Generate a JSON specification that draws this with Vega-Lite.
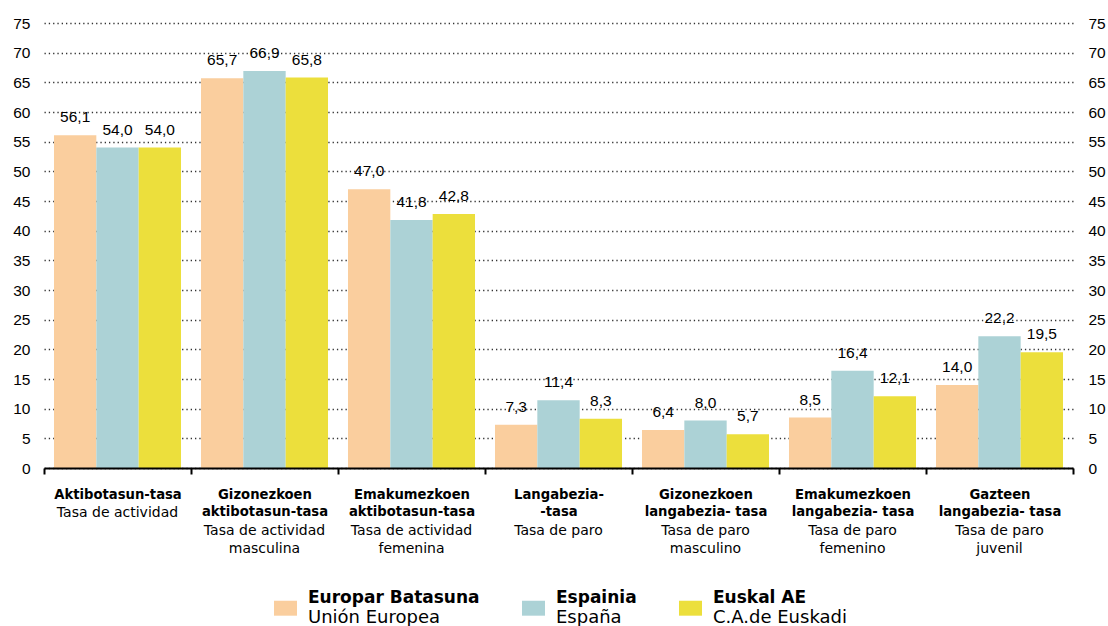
{
  "$schema": "https://vega.github.io/schema/vega-lite/v6.json",
  "width": 1029,
  "height": 445,
  "autosize": {"type": "none"},
  "padding": {"left": 44, "top": 23, "right": 35, "bottom": 158},
  "background": "white",
  "config": {
    "locale": {"number": {"decimal": ",", "thousands": ".", "grouping": [3], "currency": ["", " €"]}},
    "view": {"stroke": null},
    "font": "Liberation Sans"
  },
  "data": {
    "values": [
      {"kat": "Aktibotasun-tasa#Tasa de actividad", "serie": "Europar Batasuna", "serie_es": "Unión Europea", "balioa": 56.1},
      {"kat": "Aktibotasun-tasa#Tasa de actividad", "serie": "Espainia", "serie_es": "España", "balioa": 54.0},
      {"kat": "Aktibotasun-tasa#Tasa de actividad", "serie": "Euskal AE", "serie_es": "C.A.de Euskadi", "balioa": 54.0},
      {"kat": "Gizonezkoen|aktibotasun-tasa#Tasa de actividad|masculina", "serie": "Europar Batasuna", "serie_es": "Unión Europea", "balioa": 65.7},
      {"kat": "Gizonezkoen|aktibotasun-tasa#Tasa de actividad|masculina", "serie": "Espainia", "serie_es": "España", "balioa": 66.9},
      {"kat": "Gizonezkoen|aktibotasun-tasa#Tasa de actividad|masculina", "serie": "Euskal AE", "serie_es": "C.A.de Euskadi", "balioa": 65.8},
      {"kat": "Emakumezkoen|aktibotasun-tasa#Tasa de actividad|femenina", "serie": "Europar Batasuna", "serie_es": "Unión Europea", "balioa": 47.0},
      {"kat": "Emakumezkoen|aktibotasun-tasa#Tasa de actividad|femenina", "serie": "Espainia", "serie_es": "España", "balioa": 41.8},
      {"kat": "Emakumezkoen|aktibotasun-tasa#Tasa de actividad|femenina", "serie": "Euskal AE", "serie_es": "C.A.de Euskadi", "balioa": 42.8},
      {"kat": "Langabezia-|-tasa#Tasa de paro", "serie": "Europar Batasuna", "serie_es": "Unión Europea", "balioa": 7.3},
      {"kat": "Langabezia-|-tasa#Tasa de paro", "serie": "Espainia", "serie_es": "España", "balioa": 11.4},
      {"kat": "Langabezia-|-tasa#Tasa de paro", "serie": "Euskal AE", "serie_es": "C.A.de Euskadi", "balioa": 8.3},
      {"kat": "Gizonezkoen|langabezia- tasa#Tasa de paro|masculino", "serie": "Europar Batasuna", "serie_es": "Unión Europea", "balioa": 6.4},
      {"kat": "Gizonezkoen|langabezia- tasa#Tasa de paro|masculino", "serie": "Espainia", "serie_es": "España", "balioa": 8.0},
      {"kat": "Gizonezkoen|langabezia- tasa#Tasa de paro|masculino", "serie": "Euskal AE", "serie_es": "C.A.de Euskadi", "balioa": 5.7},
      {"kat": "Emakumezkoen|langabezia- tasa#Tasa de paro|femenino", "serie": "Europar Batasuna", "serie_es": "Unión Europea", "balioa": 8.5},
      {"kat": "Emakumezkoen|langabezia- tasa#Tasa de paro|femenino", "serie": "Espainia", "serie_es": "España", "balioa": 16.4},
      {"kat": "Emakumezkoen|langabezia- tasa#Tasa de paro|femenino", "serie": "Euskal AE", "serie_es": "C.A.de Euskadi", "balioa": 12.1},
      {"kat": "Gazteen|langabezia- tasa#Tasa de paro|juvenil", "serie": "Europar Batasuna", "serie_es": "Unión Europea", "balioa": 14.0},
      {"kat": "Gazteen|langabezia- tasa#Tasa de paro|juvenil", "serie": "Espainia", "serie_es": "España", "balioa": 22.2},
      {"kat": "Gazteen|langabezia- tasa#Tasa de paro|juvenil", "serie": "Euskal AE", "serie_es": "C.A.de Euskadi", "balioa": 19.5}
    ]
  },
  "layer": [
    {
      "mark": {"type": "bar", "strokeWidth": 0},
      "encoding": {
        "x": {
          "field": "kat", "type": "nominal", "sort": null,
          "scale": {"paddingInner": 0, "paddingOuter": 0},
          "axis": {
            "orient": "bottom", "title": null, "grid": false, "zindex": 1,
            "domain": true, "domainColor": "#000", "domainWidth": 2,
            "ticks": true, "tickBand": "extent", "tickColor": "#000", "tickWidth": 2, "tickSize": 6,
            "labelExpr": "datum.value ? split(split(datum.value, '#')[0], '|') : ''",
            "labelFont": "DejaVu Sans", "labelFontWeight": "bold", "labelFontSize": 13.2,
            "labelLineHeight": 17.8, "labelBaseline": "top", "labelPadding": 14,
            "labelColor": "#000", "labelAngle": 0, "labelOverlap": false, "labelLimit": 400
          }
        },
        "xOffset": {
          "field": "serie", "type": "nominal", "sort": null,
          "scale": {"domain": ["Europar Batasuna", "Espainia", "Euskal AE"], "paddingInner": 0, "paddingOuter": 0.236}
        },
        "y": {
          "field": "balioa", "type": "quantitative",
          "scale": {"domain": [0, 75], "nice": false},
          "axis": {
            "orient": "left", "title": null, "values": [0, 5, 10, 15, 20, 25, 30, 35, 40, 45, 50, 55, 60, 65, 70, 75],
            "domain": false, "ticks": false, "grid": true, "gridColor": "#333", "gridDash": [1.3, 3], "gridWidth": 1.3,
            "labelFont": "Liberation Sans", "labelFontSize": 15.5, "labelPadding": 14, "labelColor": "#000", "format": "d"
          }
        },
        "fill": {
          "field": "serie", "type": "nominal",
          "scale": {"domain": ["Europar Batasuna", "Espainia", "Euskal AE"], "range": ["#FACE9E", "#ACD2D6", "#ECDF3C"]},
          "legend": {
            "title": null, "orient": "none", "legendX": 230, "legendY": 563, "direction": "horizontal", "columns": 3,
            "symbolType": "M-1,0.26H1V1.56H-1Z", "symbolSize": 529, "symbolStrokeWidth": 0, "symbolOpacity": 1,
            "labelExpr": "[datum.label, '']",
            "labelFont": "DejaVu Sans", "labelFontWeight": "bold", "labelFontSize": 17, "labelLineHeight": 21,
            "labelOffset": 11, "columnPadding": 42, "padding": 0, "labelColor": "#000", "labelLimit": 400, "gridAlign": "each"
          }
        },
        "stroke": {
          "field": "serie_es", "type": "nominal",
          "scale": {"domain": ["Unión Europea", "España", "C.A.de Euskadi"], "range": ["#FACE9E", "#ACD2D6", "#ECDF3C"]},
          "legend": {
            "title": null, "orient": "none", "legendX": 230, "legendY": 563, "direction": "horizontal", "columns": 3,
            "symbolType": "M-1,0.26H1V1.56H-1Z", "symbolSize": 529, "symbolStrokeWidth": 0, "symbolOpacity": 0,
            "labelExpr": "[datum.label == 'Unión Europea' ? '\u200b\u00a0\u00a0\u00a0\u00a0\u00a0\u00a0\u00a0\u00a0\u00a0\u00a0\u00a0\u00a0\u00a0\u00a0\u00a0\u00a0\u00a0\u00a0\u00a0\u00a0\u00a0\u00a0\u00a0\u00a0\u00a0\u00a0\u00a0\u00a0\u00a0\u00a0\u200b' : datum.label == 'España' ? '\u200b\u00a0\u00a0\u00a0\u00a0\u00a0\u00a0\u00a0\u00a0\u00a0\u00a0\u00a0\u00a0\u00a0\u00a0\u200b' : '', datum.label]",
            "labelFont": "DejaVu Sans", "labelFontSize": 18, "labelLineHeight": 21,
            "labelOffset": 11, "columnPadding": 42, "padding": 0, "labelColor": "#000", "labelLimit": 400, "gridAlign": "each"
          }
        }
      }
    },
    {
      "mark": {"type": "text", "baseline": "alphabetic", "align": "center", "dy": -13, "font": "Liberation Sans", "fontSize": 15.5, "fill": "#000"},
      "encoding": {
        "x": {
          "field": "kat", "type": "nominal", "sort": null,
          "axis": {
            "orient": "bottom", "title": null, "grid": false, "domain": false, "ticks": false,
            "labelExpr": "split((length(split(split(datum.value, '#')[0], '|')) > 1 ? '\u200b|\u200b|' : '\u200b|') + split(datum.value, '#')[1], '|')",
            "labelFont": "DejaVu Sans", "labelFontSize": 14, "labelLineHeight": 17.8, "labelBaseline": "top", "labelPadding": 20,
            "labelColor": "#000", "labelAngle": 0, "labelOverlap": false, "labelLimit": 400
          }
        },
        "xOffset": {"field": "serie", "type": "nominal", "sort": null},
        "y": {
          "field": "balioa", "type": "quantitative",
          "axis": {
            "orient": "right", "title": null, "values": [0, 5, 10, 15, 20, 25, 30, 35, 40, 45, 50, 55, 60, 65, 70, 75],
            "domain": false, "ticks": false, "grid": false,
            "labelFont": "Liberation Sans", "labelFontSize": 15.5, "labelPadding": 15, "labelColor": "#000", "format": "d"
          }
        },
        "text": {"field": "balioa", "type": "quantitative", "format": ".1f"}
      }
    }
  ],
  "resolve": {"axis": {"x": "independent", "y": "independent"}}
}
